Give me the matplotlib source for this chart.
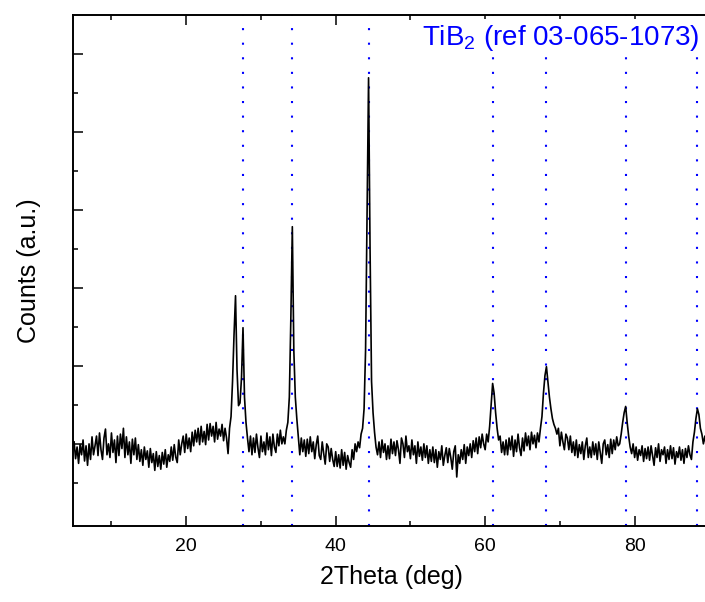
import numpy as np
import matplotlib.pyplot as plt

plt.rcParams['font.family'] = ['Liberation Sans', 'DejaVu Sans']
plt.rcParams['mathtext.fontset'] = 'custom'
plt.rcParams['mathtext.rm'] = 'Liberation Sans'

# scan grid, 2theta in degrees (0.2 deg step)
two_theta = np.round(np.arange(5.0, 89.81, 0.2), 1)

# counts, one row per degree (x.0, x.2, x.4, x.6, x.8)
counts = [
    405, 362, 392, 350, 398,   # 5
    372, 410, 356, 395, 345,   # 6
    400, 360, 418, 372, 395,   # 7
    420, 370, 428, 385, 360,   # 8
    415, 438, 372, 400, 365,   # 9
    428, 378, 410, 352, 420,   # 10
    370, 425, 388, 440, 365,   # 11
    418, 372, 405, 350, 412,   # 12
    372, 415, 360, 398, 355,   # 13
    385, 345, 392, 360, 382,   # 14
    340, 388, 352, 375, 332,   # 15
    380, 342, 370, 335, 378,   # 16
    348, 385, 340, 372, 355,   # 17
    392, 358, 398, 366, 352,   # 18
    410, 372, 400, 420, 378,   # 19
    425, 388, 415, 380, 430,   # 20
    395, 435, 405, 440, 398,   # 21
    445, 405, 432, 398, 450,   # 22
    410, 452, 420, 445, 405,   # 23
    455, 412, 438, 420, 450,   # 24
    408, 440, 415, 375, 440,   # 25
    470, 560, 680, 780, 590,   # 26
    498, 505, 570, 698, 520,   # 27
    455, 415, 380, 420, 372,   # 28
    415, 378, 425, 390, 365,   # 29
    420, 380, 405, 372, 428,   # 30
    385, 418, 370, 425, 392,   # 31
    378, 425, 395, 435, 400,   # 32
    418, 400, 435, 455, 520,   # 33
    720, 957, 640, 520, 465,   # 34
    420, 372, 415, 380, 410,   # 35
    368, 412, 375, 418, 380,   # 36
    405, 362, 398, 420, 370,   # 37
    360, 405, 375, 348, 400,   # 38
    392, 355, 388, 360, 342,   # 39
    380, 342, 372, 338, 385,   # 40
    345, 378, 335, 370, 352,   # 41
    340, 385, 360, 400, 380,   # 42
    405, 390, 425, 440, 490,   # 43
    640, 1000, 1339, 900, 560,  # 44
    480, 430, 392, 372, 405,   # 45
    365, 410, 378, 400, 360,   # 46
    395, 362, 412, 375, 405,   # 47
    370, 408, 385, 350, 415,   # 48
    400, 365, 420, 380, 395,   # 49
    362, 410, 372, 395, 350,   # 50
    405, 368, 392, 358, 400,   # 51
    365, 395, 350, 385, 355,   # 52
    392, 352, 385, 340, 380,   # 53
    360, 395, 345, 370, 390,   # 54
    352, 388, 365, 335, 380,   # 55
    395, 315, 372, 350, 385,   # 56
    360, 398, 350, 392, 370,   # 57
    400, 365, 408, 380, 415,   # 58
    375, 418, 390, 425, 400,   # 59
    385, 425, 405, 445, 500,   # 60
    555, 530, 480, 440, 410,   # 61
    420, 378, 405, 372, 410,   # 62
    372, 415, 385, 420, 368,   # 63
    410, 380, 425, 390, 370,   # 64
    415, 382, 428, 395, 420,   # 65
    385, 430, 400, 422, 390,   # 66
    428, 405, 440, 470, 530,   # 67
    575, 598, 560, 520, 490,   # 68
    465, 450, 440, 425, 440,   # 69
    395, 430, 405, 385, 425,   # 70
    415, 385, 420, 378, 405,   # 71
    370, 410, 365, 398, 375,   # 72
    405, 360, 395, 415, 365,   # 73
    392, 365, 405, 372, 400,   # 74
    360, 405, 378, 350, 400,   # 75
    410, 372, 398, 365, 412,   # 76
    375, 410, 385, 418, 395,   # 77
    400, 425, 455, 480, 496,   # 78
    455, 420, 392, 375, 400,   # 79
    365, 392, 358, 385, 370,   # 80
    395, 355, 388, 362, 392,   # 81
    358, 395, 370, 345, 390,   # 82
    365, 400, 355, 385, 372,   # 83
    392, 350, 385, 360, 395,   # 84
    362, 390, 348, 380, 365,   # 85
    392, 358, 385, 350, 388,   # 86
    365, 395, 372, 360, 405,   # 87
    430, 465, 490, 475, 440,   # 88
    425, 400, 420, 395, 405,   # 89
]

# TiB2 reference positions (PDF 03-065-1073)
ref_lines = [27.6, 34.1, 44.4, 61.1, 68.2, 78.8, 88.4]

fig = plt.figure(figsize=(7.05, 6.02), dpi=100)
ax = fig.add_axes([0.1035, 0.1267, 0.9027, 0.8483])

for pos in ref_lines:
    ax.axvline(pos, color='#0000ff', lw=1.5, linestyle=(0, (1, 6)),
               dash_capstyle='butt', zorder=1)

ax.plot(two_theta, counts, color='black', lw=1.2, zorder=2)

ax.text(0.985, 0.941, r'TiB$_2$ (ref 03-065-1073)', transform=ax.transAxes,
        ha='right', va='baseline', fontsize=20, color='#0000ff', zorder=3,
        bbox=dict(facecolor='white', edgecolor='none', pad=3))

ax.set_xlim(4.85, 90)
ax.set_ylim(190, 1500)
ax.set_xticks([20, 40, 60, 80])
ax.set_xticks([10, 30, 50, 70, 90], minor=True)
ax.set_yticks(np.arange(400, 1401, 200))
ax.set_yticks(np.arange(300, 1301, 200), minor=True)
ax.set_yticklabels([])

ax.tick_params(which='both', direction='in', top=True, right=False, width=1.1)
ax.tick_params(which='major', length=7, labelsize=14, pad=9)
ax.tick_params(which='minor', length=3.5)
for sp in ax.spines.values():
    sp.set_linewidth(1.4)

ax.set_xlabel('2Theta (deg)', fontsize=18, labelpad=7)
ax.set_ylabel('Counts (a.u.)', fontsize=18, labelpad=14)

fig.savefig('out.png', dpi=100)
